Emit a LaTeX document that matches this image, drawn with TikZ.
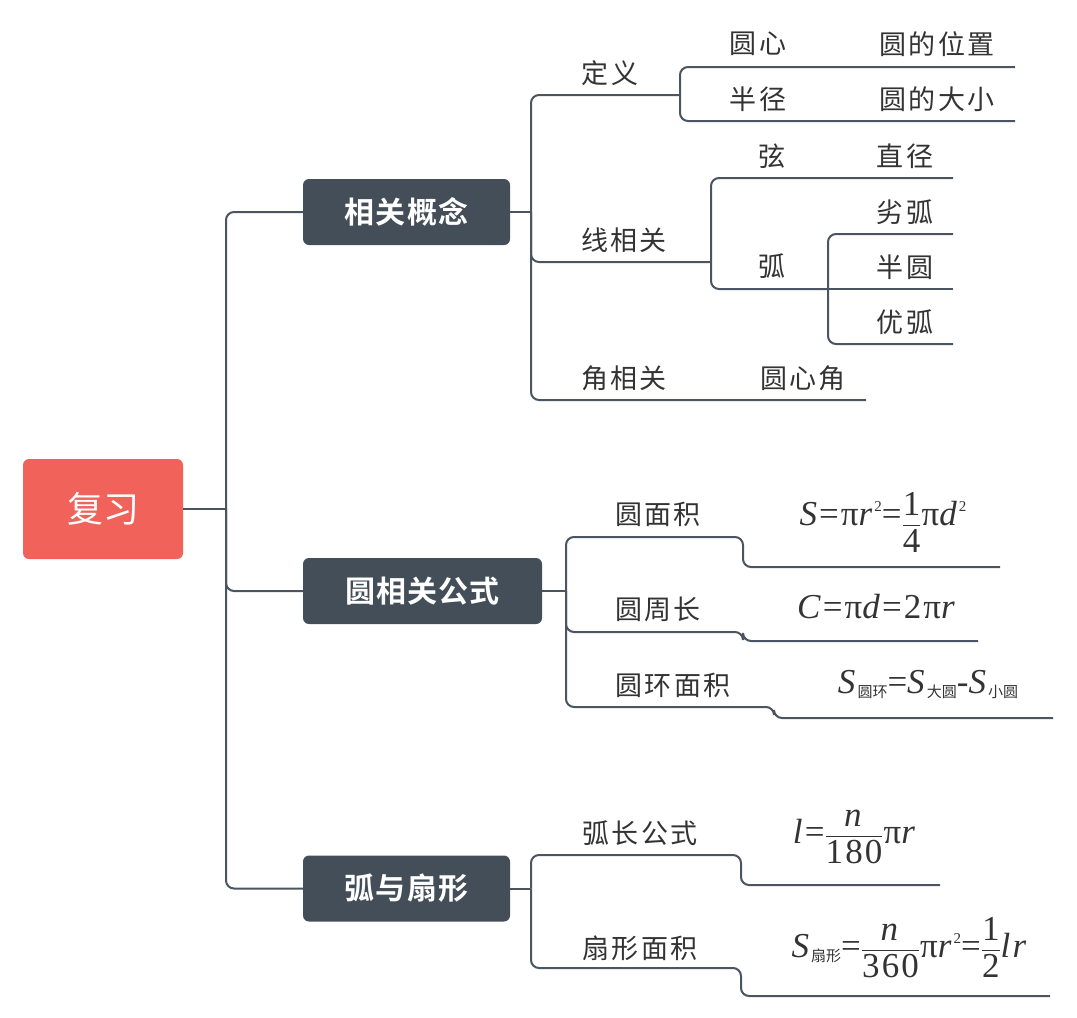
\documentclass[tikz,border=0pt]{standalone}
\usepackage{fontspec}
\usepackage{amsmath}
\newfontfamily\cjk[LetterSpace=8]{Noto Sans CJK SC}
\newfontfamily\cjkb[LetterSpace=4]{Noto Sans CJK SC Bold}
\newfontfamily\cjksub{Noto Sans CJK SC}
\newfontfamily\tnr[LetterSpace=6]{Liberation Serif}
\definecolor{linec}{HTML}{4A5561}
\definecolor{boxc}{HTML}{434E58}
\definecolor{rootc}{HTML}{F0625A}
\definecolor{txtc}{HTML}{333333}
\newcommand\fv[1]{\textit{#1}}
\newcommand\ffrac[2]{\ensuremath{\dfrac{\mbox{#1}}{\mbox{#2}}}}
\newcommand\sq[1]{\raisebox{0.85ex}{\fontsize{15}{15}\selectfont #1}}
\newcommand\sbb[1]{\raisebox{-0.25ex}{\fontsize{15}{15}\selectfont\cjksub #1}}
\tikzset{
  conn/.style={draw=linec, line width=2pt, rounded corners=8pt},
  lbl/.style={text=txtc, font=\fontsize{27}{30}\selectfont\cjk, inner sep=0pt},
  fml/.style={text=txtc, font=\fontsize{35}{40}\selectfont\tnr, inner sep=0pt, anchor=base},
  boxd/.style={fill=boxc, rounded corners=6pt, text=white, minimum height=66pt,
    inner sep=0pt, font=\fontsize{30}{34}\selectfont\cjkb},
}
\begin{document}
\begin{tikzpicture}[x=1pt,y=-1pt]
\useasboundingbox (0,0) rectangle (1077,1018);

% main nodes
\node[fill=rootc, rounded corners=6pt, minimum width=160pt, minimum height=100pt,
  text=white, font=\fontsize{36}{40}\selectfont\cjksub, inner sep=0pt] (root) at (103,509) {复习};
\node[boxd, minimum width=207pt] (c1) at (406.5,212) {相关概念};
\node[boxd, minimum width=239pt] (c2) at (422.5,591) {圆相关公式};
\node[boxd, minimum width=207pt] (c3) at (406.5,888.5) {弧与扇形};

% trunk
\coordinate (t0) at (226,509);
\draw[conn] (root.east) -- (t0);
\draw[conn] (t0) |- (c1.west);
\draw[conn] (t0) |- (c2.west);
\draw[conn] (t0) |- (c3.west);

% ---- 相关概念 ----
\coordinate (j1) at (531,212);
\draw[conn] (c1.east) -- (j1);
\coordinate (u1) at (680,95);
\coordinate (u2) at (711,262);
\coordinate (u3) at (866,400);
\draw[conn] (j1) |- (u1);
\draw[conn] (j1) |- (u2);
\draw[conn] (j1) |- (u3);
\node[lbl] (dingyi) at (610,73) {定义};
\node[lbl] (xian) at (624,240) {线相关};
\node[lbl] (jiao) at (624,378) {角相关};
\node[lbl] (yxj) at (803,378) {圆心角};

% 定义 children
\coordinate (u11) at (1015,67);
\coordinate (u12) at (1015,121);
\draw[conn] (u1) |- (u11);
\draw[conn] (u1) |- (u12);
\node[lbl] (yx) at (758,44) {圆心};
\node[lbl] (ywz) at (937,44) {圆的位置};
\node[lbl] (bj) at (758,99) {半径};
\node[lbl] (ydx) at (937,99) {圆的大小};

% 线相关 children
\coordinate (u21) at (953,178);
\coordinate (u22) at (828,289);
\draw[conn] (u2) |- (u21);
\draw[conn] (u2) |- (u22);
\node[lbl] (xuan) at (772,156) {弦};
\node[lbl] (zj) at (905,156) {直径};
\node[lbl] (hu) at (772,266) {弧};
\coordinate (u221) at (953,234);
\coordinate (u222) at (953,289);
\coordinate (u223) at (953,344);
\draw[conn] (u22) |- (u221);
\draw[conn] (u22) -- (u222);
\draw[conn] (u22) |- (u223);
\node[lbl] (lh) at (905,212) {劣弧};
\node[lbl] (by) at (905,267) {半圆};
\node[lbl] (yh) at (905,322) {优弧};

% ---- 圆相关公式 ----
\coordinate (j2) at (566,591);
\draw[conn] (c2.east) -- (j2);
\coordinate (s1) at (743,537);
\coordinate (s2) at (743,632);
\coordinate (s3) at (774,707);
\coordinate (e1) at (1000,567);
\coordinate (e2) at (978,641);
\coordinate (e3) at (1053,718);
\draw[conn] (j2) |- (s1) |- (e1);
\draw[conn] (j2) |- (s2) |- (e2);
\draw[conn] (j2) |- (s3) |- (e3);
\node[lbl] (ymj) at (658,514) {圆面积};
\node[lbl] (yzc) at (658,609) {圆周长};
\node[lbl] (yhmj) at (673,685) {圆环面积};
\node[fml] (f1) at (883,525) {\fv{S}=π\fv{r}\sq{2}=\raisebox{-7pt}{\ffrac{1}{4}}π\fv{d}\sq{2}};
\node[fml] (f2) at (877,618) {\fv{C}=π\fv{d}=2π\fv{r}};
\node[fml] (f3) at (928,693) {\fv{S}\sbb{圆环}=\fv{S}\sbb{大圆}-\fv{S}\sbb{小圆}};

% ---- 弧与扇形 ----
\coordinate (j3) at (531,888.5);
\draw[conn] (c3.east) -- (j3);
\coordinate (s4) at (741,855);
\coordinate (s5) at (741,968);
\coordinate (e4) at (940,885);
\coordinate (e5) at (1050,996);
\draw[conn] (j3) |- (s4) |- (e4);
\draw[conn] (j3) |- (s5) |- (e5);
\node[lbl] (hcgs) at (640,833) {弧长公式};
\node[lbl] (sxmj) at (640,948) {扇形面积};
\node[fml] (f4) at (855,843) {\fv{l}=\ffrac{\fv{n}}{180}π\fv{r}};
\node[fml] (f5) at (910,957) {\fv{S}\sbb{扇形}=\ffrac{\fv{n}}{360}π\fv{r}\sq{2}=\ffrac{1}{2}\fv{l}\fv{r}};
\end{tikzpicture}
\end{document}
